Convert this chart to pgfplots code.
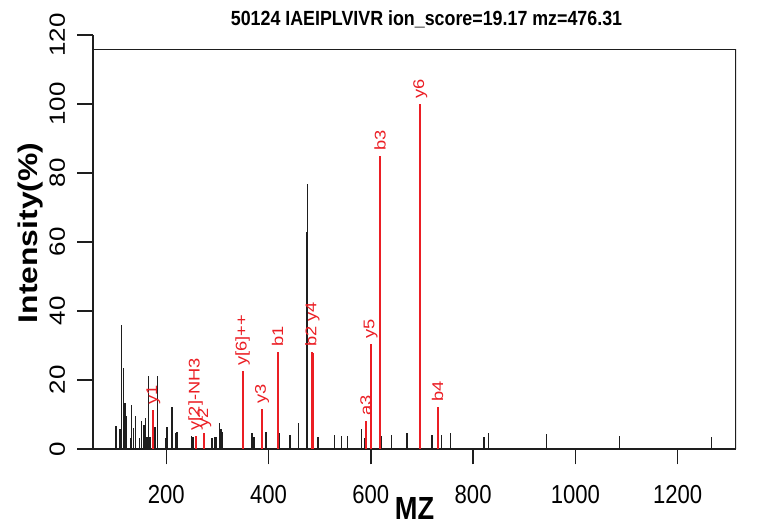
\documentclass[border=0pt]{standalone}
\usepackage{pgfplots}
\pgfplotsset{compat=1.18}
\usepackage{pgfplotstable}
\usepackage{fontspec}
\setmainfont{Liberation Sans}
\newfontfamily\hfont{Liberation Sans}[FakeStretch=0.85]
\newfontfamily\tfont{Liberation Sans}[FakeStretch=0.87]
\newfontfamily\vfont{Liberation Sans}[FakeStretch=1.18]
\definecolor{pkred}{RGB}{235,30,36}
\definecolor{pkblack}{RGB}{30,30,30}

\pgfplotstableread{
mz int
101.6 6.7
109.6 5.8
112.8 35.9
116.7 23.4
119.0 13.3
121.8 9.6
129.6 3.3
132.3 12.8
136.3 6.0
140.2 9.7
147.2 3.3
151.9 8.2
156.4 7.0
159.7 9.1
162.3 3.6
165.6 21.2
168.0 3.6
177.9 6.5
182.4 21.2
198.0 3.3
201.4 6.5
211.1 12.3
218.4 4.5
221.0 5.0
249.3 3.8
252.3 3.6
289.0 3.2
295.5 3.4
298.5 3.6
303.9 7.6
307.0 5.8
310.3 4.8
367.6 4.7
371.5 3.4
395.0 4.8
421.2 4.5
441.9 4.2
458.1 7.4
473.8 63.0
476.3 76.7
496.8 3.6
529.0 4.2
543.0 3.7
554.7 3.8
582.1 5.7
588.0 3.3
616.6 7.9
620.5 3.8
640.7 4.1
670.7 4.5
719.5 4.2
738.5 4.2
756.1 4.7
821.3 3.4
830.5 4.5
943.8 4.3
1086.5 3.8
1266.5 3.5
}\blackpeaks

\pgfplotstableread[col sep=comma]{
mz,int,lab
174.6,11.3,y1
257.5,3.8,y[2]-NH3
274.3,4.6,y2
349.4,22.6,y[6]++
387.2,11.6,y3
417.8,28.0,b1
485.6,28.0,b2 y4
589.9,8.2,a3
599.7,30.3,y5
617.9,84.9,b3
696.5,100.0,y6
730.7,12.1,b4
}\labpeaks

\pgfplotstableread{
mz int
487.8 27.8
}\extrared

\begin{document}
\begin{tikzpicture}
\path[use as bounding box] (-93pt,-80pt) rectangle (668pt,449pt);
\begin{axis}[
  scale only axis,
  width=643pt, height=414pt,
  xmin=56.7, xmax=1314,
  ymin=0, ymax=120,
  axis x line*=bottom, axis y line*=left,
  axis line style={-, line width=1.3pt, pkblack},
  xtick={200,400,600,800,1000,1200},
  ytick={0,20,40,60,80,100,120},
  minor tick num=0,
  tick align=outside,
  major tick length=15.5pt,
  tick style={line width=1.3pt, pkblack},
  /pgf/number format/.cd, assume math mode=true, set thousands separator={},
  /pgfplots/.cd,
  xticklabel style={font=\fontsize{26}{26}\hfont, anchor=base, inner sep=0pt, yshift=-39pt},
  yticklabel style={font=\fontsize{22}{22}\vfont, xshift=-12.5pt, rotate=90, anchor=base, inner sep=0pt},
  title={50124 IAEIPLVIVR ion\_score=19.17 mz=476.31},
  title style={at={(rel axis cs:0.5,1)}, anchor=base, xshift=12pt, yshift=3pt, inner sep=0pt, font=\fontsize{20.5}{20.5}\tfont\bfseries},
  xlabel={MZ},
  every axis x label/.style={at={(rel axis cs:0.5,0)}, anchor=base, yshift=-71pt, inner sep=0pt, font=\fontsize{32}{32}\hfont\bfseries},
  ylabel={Intensity(\%)},
  every axis y label/.style={at={(rel axis cs:0,0)}, xshift=-55pt, yshift=216pt, rotate=90, anchor=base, inner sep=0pt, font=\fontsize{27}{27}\vfont\bfseries},
]
\addplot[ycomb, pkblack, line width=1.4pt, mark=none] table[x=mz, y=int]{\blackpeaks};
\addplot[ycomb, pkred, line width=2pt, mark=none] table[x=mz, y=int]{\extrared};
\addplot[ycomb, pkred, line width=2pt, mark=none,
  nodes near coords, point meta=explicit symbolic,
  nodes near coords align=horizontal,
  nodes near coords style={rotate=90, anchor=west, inner xsep=4.5pt, inner ysep=0pt, text=pkred, font=\fontsize{15.5}{15.5}\vfont}]
  table[x=mz, y=int, meta=lab]{\labpeaks};
\draw[line width=1.3pt, pkblack] (axis cs:56.7,115.8) -- (axis cs:1314,115.8) -- (axis cs:1314,0);
\end{axis}
\end{tikzpicture}
\end{document}
